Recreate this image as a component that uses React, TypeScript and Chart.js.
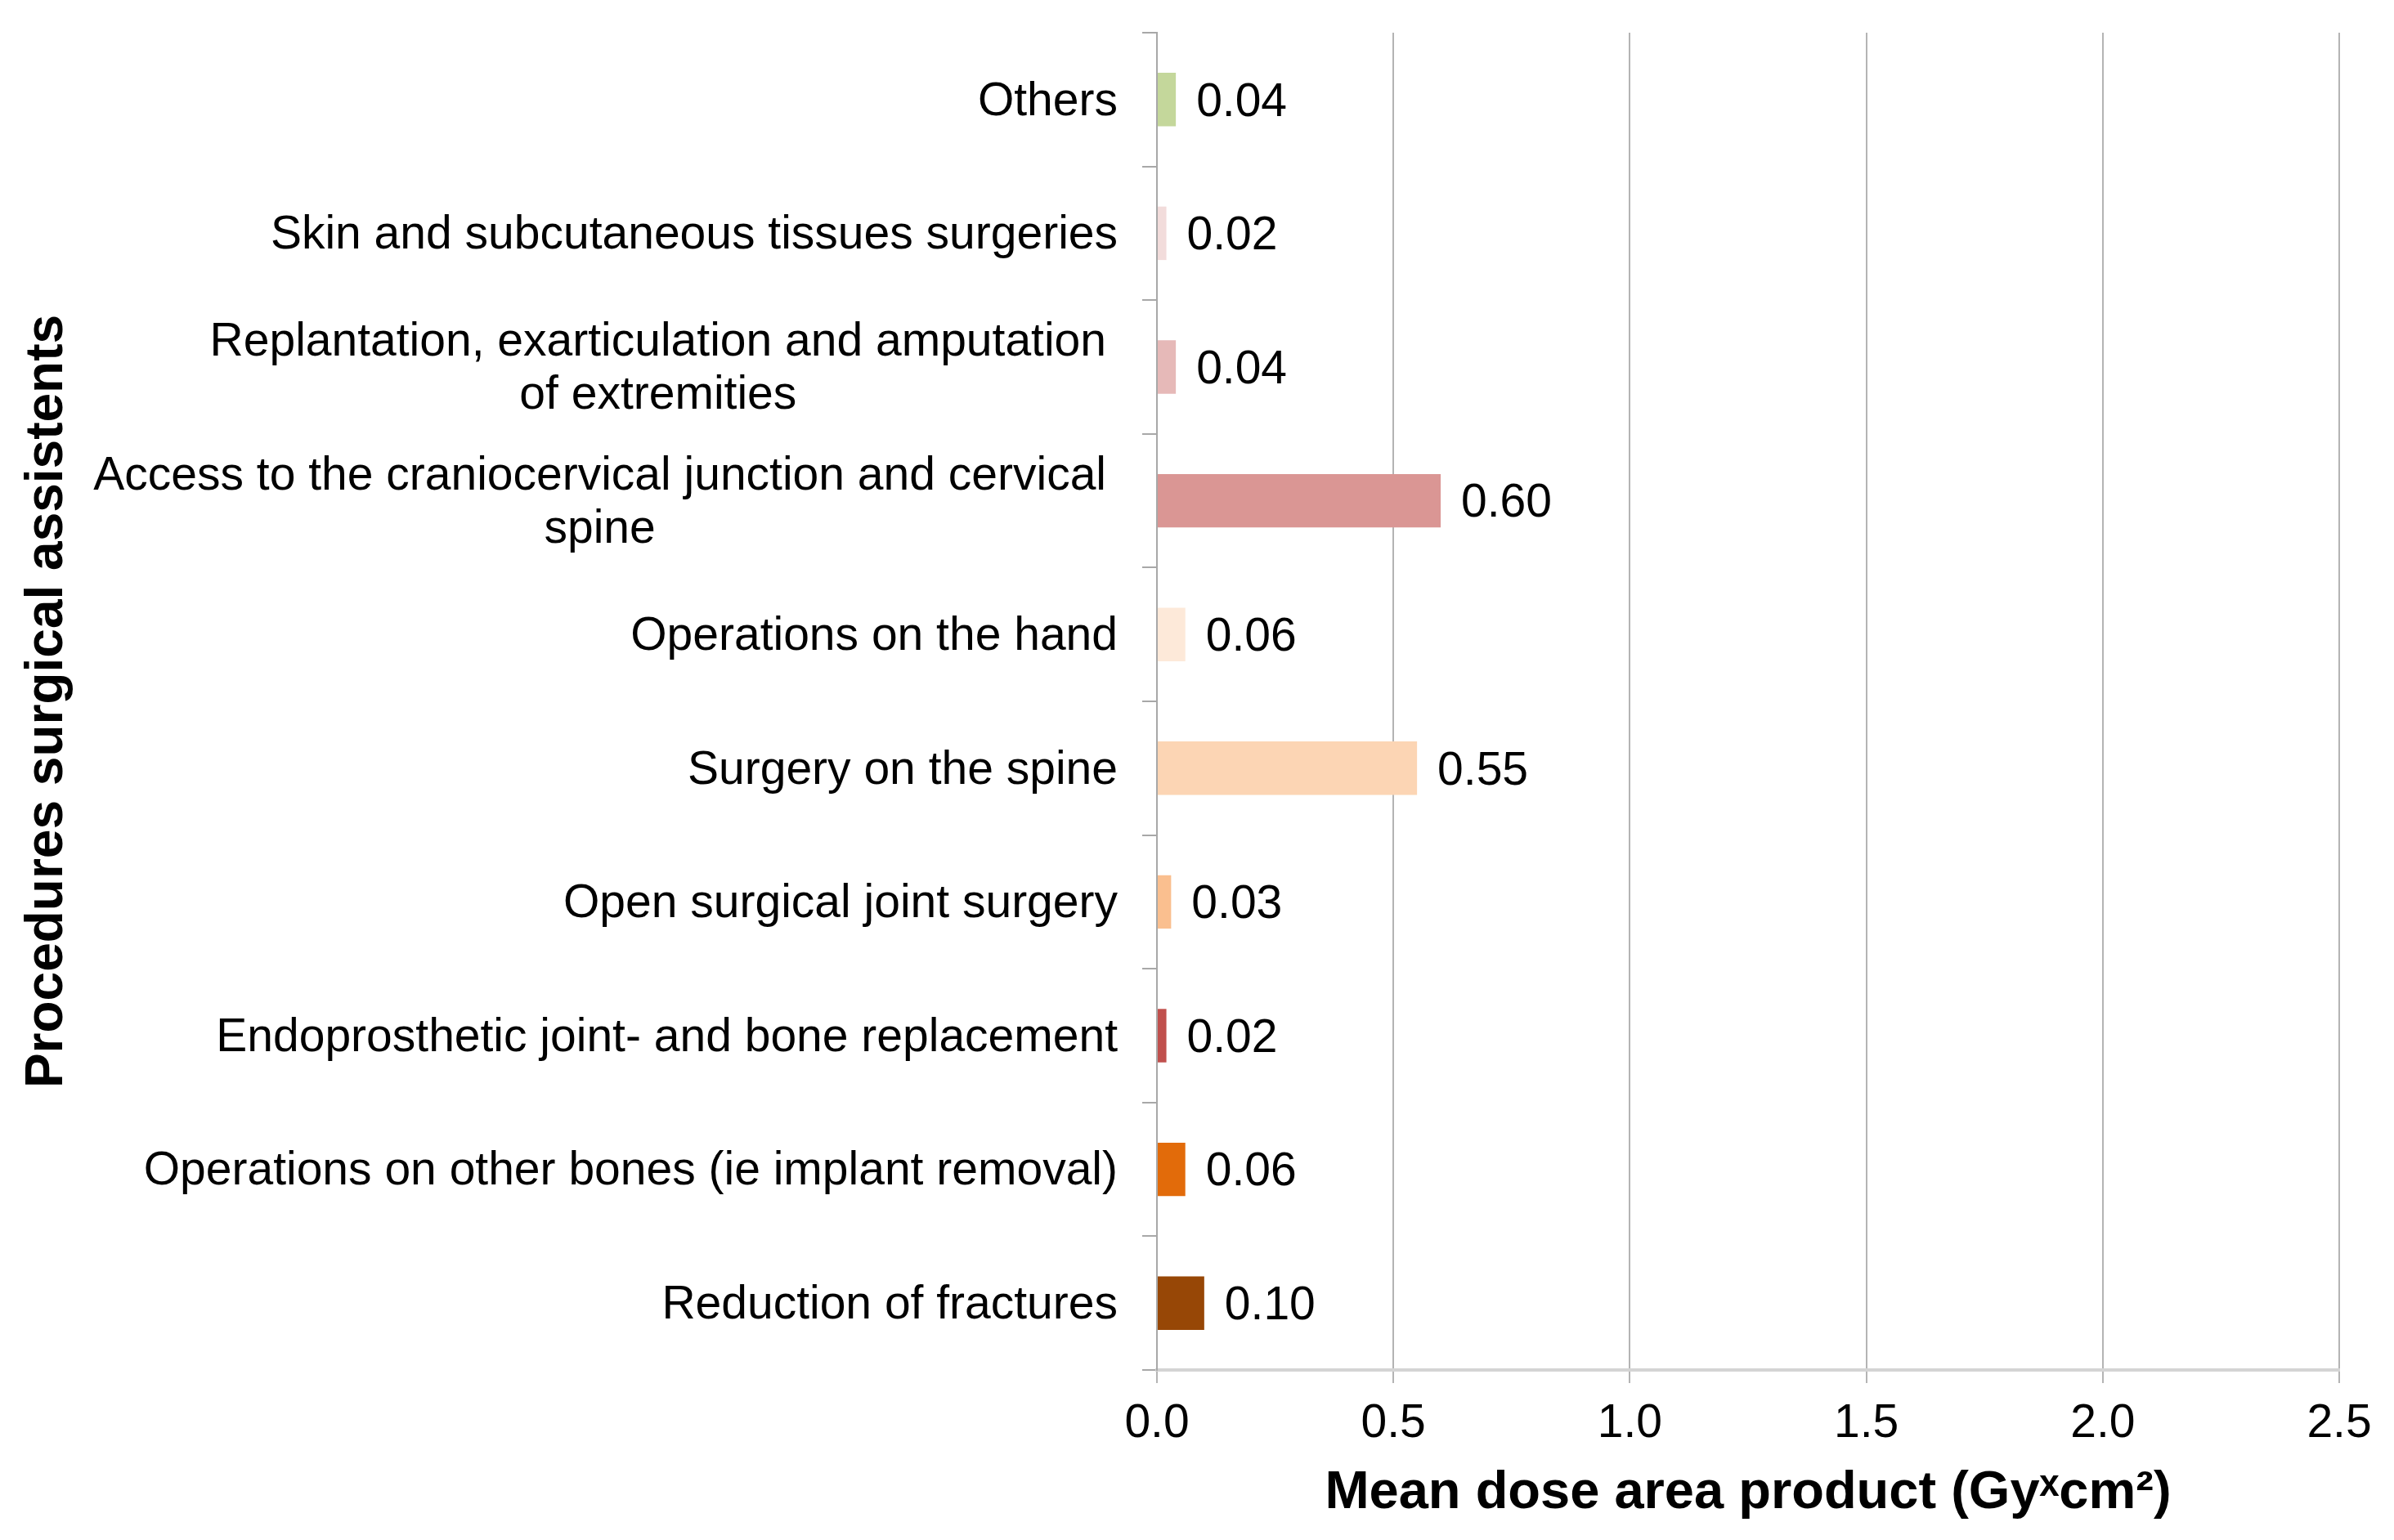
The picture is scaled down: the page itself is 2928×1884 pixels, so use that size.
import React, { useEffect, useRef } from "react";
import { Chart, registerables } from "chart.js";

Chart.register(...registerables);

const categories: string[][] = [
  ["Others"],
  ["Skin and subcutaneous tissues surgeries"],
  ["Replantation, exarticulation and amputation", "of extremities"],
  ["Access to the craniocervical junction and cervical", "spine"],
  ["Operations on the hand"],
  ["Surgery on the spine"],
  ["Open surgical joint surgery"],
  ["Endoprosthetic joint- and bone replacement"],
  ["Operations on other bones (ie implant removal)"],
  ["Reduction of fractures"],
];

const meanDose: number[] = [0.04, 0.02, 0.04, 0.6, 0.06, 0.55, 0.03, 0.02, 0.06, 0.1];

const barColors: string[] = [
  "#c4d79b",
  "#f2dcdb",
  "#e6b9b8",
  "#da9694",
  "#fde9d9",
  "#fcd5b4",
  "#fabf8f",
  "#c0504d",
  "#e26b0a",
  "#974706",
];

const xTicks: number[] = [0, 0.5, 1.0, 1.5, 2.0, 2.5];

const xTitle = "Mean dose area product (Gy\u02e3cm\u00b2)";
const yTitle = "Procedures surgical assistents";

const FONT = "'Liberation Sans', Arial, sans-serif";

export default function App() {
  const canvasRef = useRef<HTMLCanvasElement | null>(null);

  useEffect(() => {
    const canvas = canvasRef.current;
    if (!canvas) return;

    const labelPlugin = {
      id: "customLabels",
      afterDraw(chart: any) {
        const ctx = chart.ctx;
        const yScale = chart.scales.y;
        ctx.save();
        ctx.fillStyle = "#000";
        ctx.font = `57px ${FONT}`;
        ctx.textBaseline = "middle";
        const lineH = 65;
        categories.forEach((lines, i) => {
          const cy = yScale.getPixelForValue(i) + 3;
          const right = yScale.right - 48;
          if (lines.length === 1) {
            ctx.textAlign = "right";
            ctx.fillText(lines[0], right, cy);
          } else {
            const w = Math.max(...lines.map((l) => ctx.measureText(l).width));
            const cx = right - 14 - w / 2;
            ctx.textAlign = "center";
            lines.forEach((l, j) => {
              const y = cy + (j - (lines.length - 1) / 2) * lineH;
              ctx.fillText(l, cx, y);
            });
          }
        });
        // value labels
        const meta = chart.getDatasetMeta(0);
        ctx.textAlign = "left";
        ctx.font = `57px ${FONT}`;
        meta.data.forEach((bar: any, i: number) => {
          ctx.fillText(meanDose[i].toFixed(2), bar.x + 25, bar.y + 4);
        });
        ctx.restore();
      },
    };

    const chart = new Chart(canvas, {
      type: "bar",
      data: {
        labels: categories.map((c) => c.join(" ")),
        datasets: [
          {
            data: meanDose,
            backgroundColor: barColors,
            borderWidth: 0,
            barPercentage: 0.4,
            categoryPercentage: 1,
          },
        ],
      },
      options: {
        indexAxis: "y",
        animation: false,
        responsive: false,
        devicePixelRatio: 1,
        layout: { padding: { left: 0, right: 67, top: 40, bottom: 16 } },
        plugins: {
          legend: { display: false },
          tooltip: { enabled: false },
        },
        scales: {
          x: {
            min: 0,
            max: 2.5,
            afterBuildTicks: (scale: any) => {
              scale.ticks = xTicks.map((v) => ({ value: v }));
            },
            afterFit: (scale: any) => {
              scale.height = 192;
            },
            grid: {
              color: "#b4b4b4",
              lineWidth: 2,
              drawTicks: true,
              tickLength: 16,
            },
            border: { display: true, color: "#d4d4d4", width: 4 },
            ticks: {
              color: "#000",
              font: { family: FONT, size: 57 },
              padding: 16,
              callback: (v: any) => Number(v).toFixed(1),
            },
            title: {
              display: true,
              text: xTitle,
              color: "#000",
              font: { family: FONT, size: 65, weight: "bold" },
              padding: { top: 0, bottom: 2 },
            },
          },
          y: {
            afterFit: (scale: any) => {
              scale.width = 1415;
            },
            grid: {
              drawOnChartArea: false,
              drawTicks: true,
              tickLength: 18,
              offset: true,
              color: (c: any) => (c.index === categories.length ? "#d4d4d4" : "#a8a8a8"),
              lineWidth: (c: any) => (c.index === categories.length ? 4 : 2),
            },
            border: { display: true, color: "#a8a8a8", width: 2 },
            ticks: { display: false },
            title: {
              display: true,
              text: yTitle,
              color: "#000",
              font: { family: FONT, size: 64, weight: "bold" },
              padding: { top: 20, bottom: 0 },
            },
          },
        },
      },
      plugins: [labelPlugin],
    } as any);

    return () => chart.destroy();
  }, []);

  return (
    <div style={{ position: "fixed", left: 0, top: 0, width: 2928, height: 1884, background: "#fff" }}>
      <canvas ref={canvasRef} width={2928} height={1884} style={{ width: 2928, height: 1884, display: "block" }} />
    </div>
  );
}
